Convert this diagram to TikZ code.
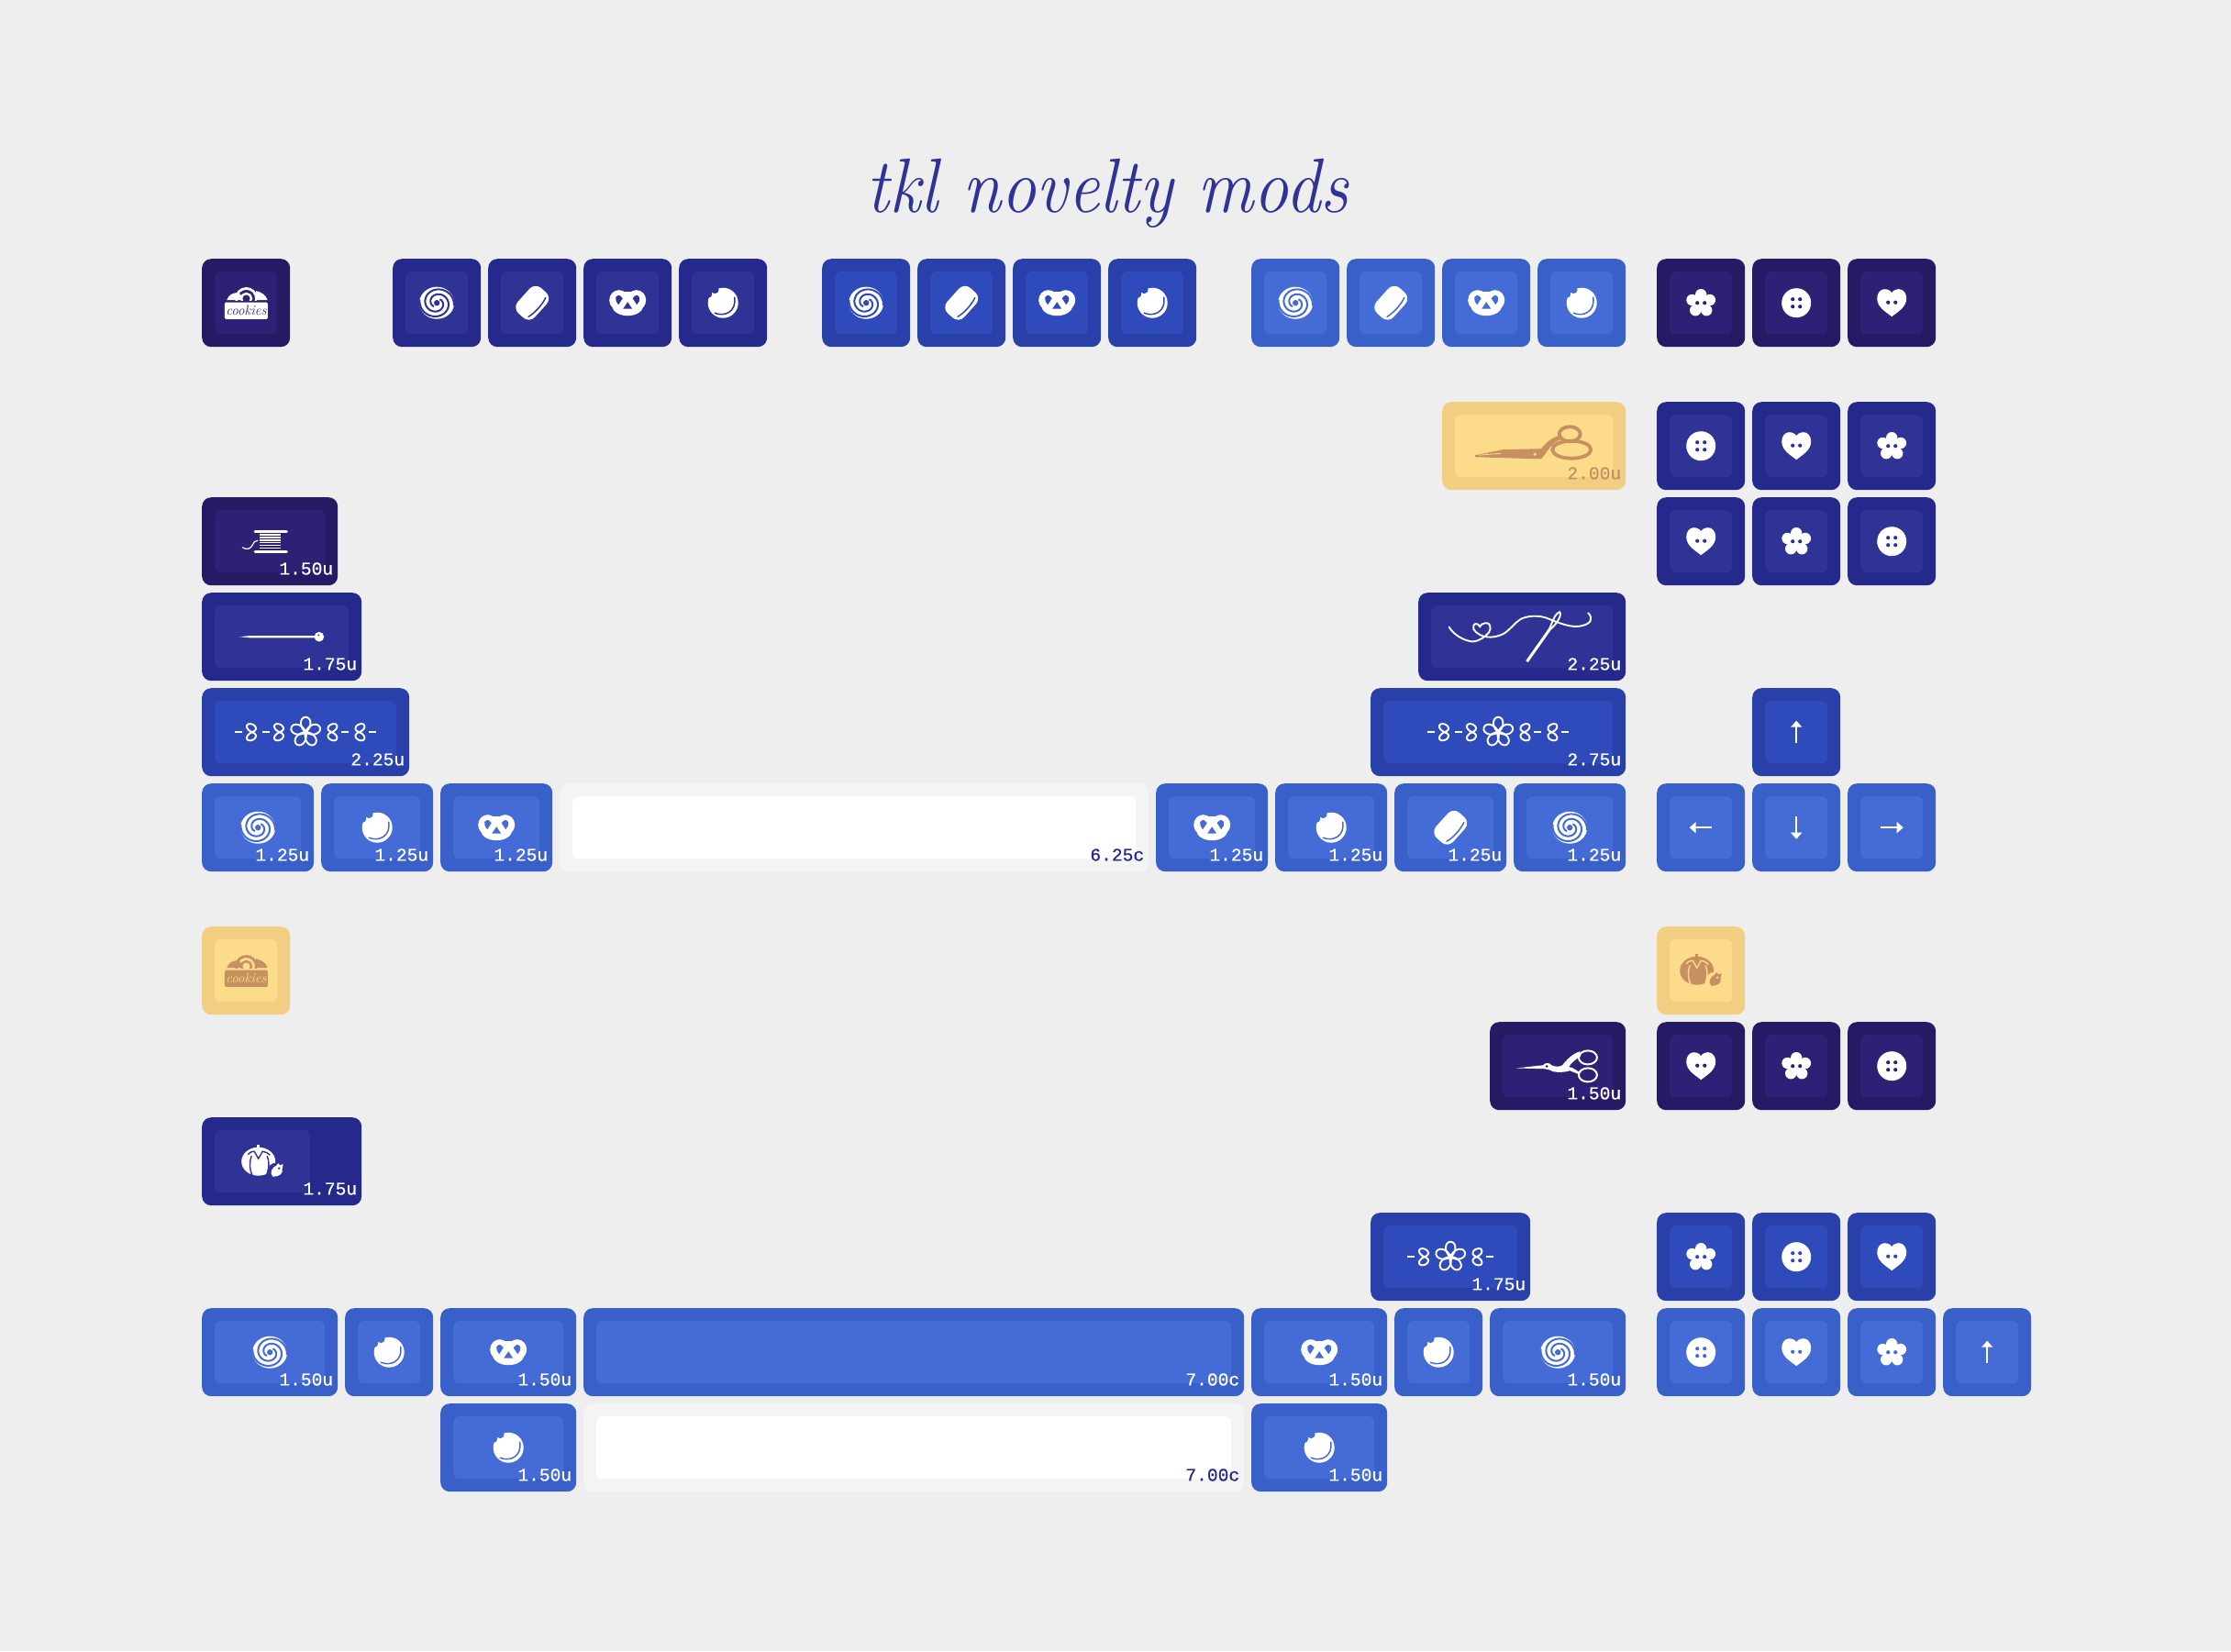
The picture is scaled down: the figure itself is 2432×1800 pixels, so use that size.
\documentclass[tikz,border=0pt]{standalone}
\usepackage{fontspec}
\usepackage{graphicx}
\usepackage{xcolor}
\usepackage{tikz}
\usetikzlibrary{positioning}
\newfontfamily\monofam[FakeBold=0.6]{Liberation Mono}
\newcommand{\sizefont}{\monofam\fontsize{19.6}{20}\selectfont}
\newcommand{\titlefont}{\fontsize{84}{90}\selectfont\itshape\addfontfeatures{FakeBold=2.2}}
\newcommand{\boxfont}{\fontsize{15}{16}\selectfont\itshape\addfontfeatures{FakeBold=0.8}}
\definecolor{pagebg}{HTML}{EEEEEE}
\definecolor{purpleo}{HTML}{251A63}\definecolor{purplei}{HTML}{2E2175}\colorlet{purplek}{white}
\definecolor{navyo}{HTML}{24298B}\definecolor{navyi}{HTML}{2F3396}\colorlet{navyk}{white}
\definecolor{royalo}{HTML}{2940AA}\definecolor{royali}{HTML}{2F4ABB}\colorlet{royalk}{white}
\definecolor{lighto}{HTML}{395FC8}\definecolor{lighti}{HTML}{446BD6}\colorlet{lightk}{white}
\definecolor{yellowo}{HTML}{F2CE83}\definecolor{yellowi}{HTML}{FCDB8B}\definecolor{yellowk}{HTML}{C79060}
\definecolor{paleo}{HTML}{F4F4F4}\colorlet{palei}{white}\colorlet{palek}{navyo}
\tikzset{
  keybody/.style={rounded corners=10pt, inner sep=0pt, minimum height=96pt, anchor=north west},
  keyface/.style={rounded corners=6pt, inner sep=0pt, minimum height=68pt, anchor=north west, xshift=14pt, yshift=-14pt},
  keytext/.style={font=\sizefont, text=keyink, anchor=base east, inner sep=0pt, xshift=-5pt, yshift=12pt},
  blank/.pic={},
  spiralicon/.pic={
    \fill[keyink] (0,0) ellipse[x radius=19, y radius=17.5];
    \draw[keyin, line width=2] plot[domain=0:420, samples=50, smooth, variable=\t] ({(5+\t/30)*cos(\t-50)}, {(5+\t/33)*sin(\t-50)});
    \draw[keyin, line width=2] plot[domain=0:420, samples=50, smooth, variable=\t] ({-(5+\t/30)*cos(\t-50)}, {-(5+\t/33)*sin(\t-50)});
    \fill[keyin] (0,0) circle[radius=3.2];
  },
  soapicon/.pic={
    \fill[keyink, rotate=48, rounded corners=9pt] (-18.5,-12.5) rectangle (18.5,12.5);
    \draw[keyin, rotate=48, line width=1.5, line cap=round] (-14,7) .. controls (-6,9.5) and (6,9.5) .. (14,7);
  },
  pretzelicon/.pic={
    \fill[keyink] (-9.5,-3) ellipse[x radius=10.5, y radius=11];
    \fill[keyink] (9.5,-3) ellipse[x radius=10.5, y radius=11];
    \fill[keyink] (0,3) ellipse[x radius=17, y radius=11];
    \fill[keyink] (-5,-12) rectangle (5,-6);
    \fill[keyin] (-13,-6) .. controls (-10,-10) and (-8,-8) .. (-5.5,-5) -- (-10,2) .. controls (-12,-1) and (-14,-3) .. (-13,-6);
    \fill[keyin] (13,-6) .. controls (10,-10) and (8,-8) .. (5.5,-5) -- (10,2) .. controls (12,-1) and (14,-3) .. (13,-6);
    \fill[keyin] (0,-1) -- (5,6.5) -- (-5,6.5) -- cycle;
  },
  cookieicon/.pic={
    \fill[keyink] (0,0) circle[radius=16.5];
    \fill[keyin] (-16,-9.5) circle[radius=4];
    \fill[keyin] (-9,-14.5) circle[radius=4.4];
    \fill[keyin] (-3.5,-19.5) circle[radius=3.5];
    \fill[keyin] (-14,-16) circle[radius=4];
    \draw[keyin, line width=1.5, line cap=round] (-9,11) .. controls (1,15.5) and (15,10) .. (12.5,-6);
  },
  buttonicon/.pic={
    \fill[keyink] (0,0) circle[radius=16];
    \fill[keyin] (-4,-4) circle[radius=2.1];
    \fill[keyin] (4,-4) circle[radius=2.1];
    \fill[keyin] (-4,4) circle[radius=2.1];
    \fill[keyin] (4,4) circle[radius=2.1];
  },
  hearticon/.pic={
    \fill[keyink] (0,15) .. controls (-6,10) and (-16,5) .. (-16,-5) .. controls (-16,-11) and (-12,-15) .. (-8,-15) .. controls (-4,-15) and (-1,-13) .. (0,-11) .. controls (1,-13) and (4,-15) .. (8,-15) .. controls (12,-15) and (16,-11) .. (16,-5) .. controls (16,5) and (6,10) .. (0,15);
    \fill[keyin] (-4,-0.5) circle[radius=2.1];
    \fill[keyin] (4,-0.5) circle[radius=2.1];
  },
  flowericon/.pic={
    \fill[keyink] (0,0) circle[radius=9];
    \fill[keyink] (0,-9) circle[radius=6.2];
    \fill[keyink] (-9.7,-3.2) circle[radius=6.2];
    \fill[keyink] (9.7,-3.2) circle[radius=6.2];
    \fill[keyink] (-6,8) circle[radius=6.2];
    \fill[keyink] (6,8) circle[radius=6.2];
    \fill[keyin] (-4,0) circle[radius=2.1];
    \fill[keyin] (4,0) circle[radius=2.1];
  },
  arrowicon/.pic={
    \draw[keyink, rotate=#1, line width=2] (0,12) -- (0,-7);
    \fill[keyink, rotate=#1] (0,-12.5) -- (6.2,-5.5) -- (-6.2,-5.5) -- cycle;
  },
  leftloop/.pic={
    \draw[keyink, line width=1.9, line join=round] (0.5,0) .. controls (-4,-2) and (-6,-5) .. (-5,-7.5) .. controls (-4,-10) and (1,-9.5) .. (3.5,-7) .. controls (6,-4) and (5,-1.5) .. (0.5,0) .. controls (5,1.5) and (6,4) .. (3.5,7) .. controls (1,9.5) and (-4,10) .. (-5,7.5) .. controls (-6,5) and (-4,2) .. (0.5,0);
  },
  rightloop/.pic={
    \draw[keyink, line width=1.9, line join=round] (-0.5,0) .. controls (4,-2) and (6,-5) .. (5,-7.5) .. controls (4,-10) and (-1,-9.5) .. (-3.5,-7) .. controls (-6,-4) and (-5,-1.5) .. (-0.5,0) .. controls (-5,1.5) and (-6,4) .. (-3.5,7) .. controls (-1,9.5) and (4,10) .. (5,7.5) .. controls (6,5) and (4,2) .. (-0.5,0);
  },
  midorn/.pic={
    \draw[keyink, line width=1.9] (0,0) .. controls (-7,-5) and (-7,-16) .. (0,-16.5) .. controls (7,-16) and (7,-5) .. (0,0);
    \draw[keyink, line width=1.9, rotate=72] (0,0) .. controls (-7,-5) and (-7,-16) .. (0,-16.5) .. controls (7,-16) and (7,-5) .. (0,0);
    \draw[keyink, line width=1.9, rotate=144] (0,0) .. controls (-7,-5) and (-7,-16) .. (0,-16.5) .. controls (7,-16) and (7,-5) .. (0,0);
    \draw[keyink, line width=1.9, rotate=216] (0,0) .. controls (-7,-5) and (-7,-16) .. (0,-16.5) .. controls (7,-16) and (7,-5) .. (0,0);
    \draw[keyink, line width=1.9, rotate=288] (0,0) .. controls (-7,-5) and (-7,-16) .. (0,-16.5) .. controls (7,-16) and (7,-5) .. (0,0);
    \fill[keyink] (0,0) circle[radius=3];
    \pic at (-29,0) {leftloop};
    \pic at (29,0) {rightloop};
    \draw[keyink, line width=2] (-47,0) -- (-39,0);
    \draw[keyink, line width=2] (47,0) -- (39,0);
  },
  wideorn/.pic={
    \pic at (0,0) {midorn};
    \pic at (-59,0) {leftloop};
    \pic at (59,0) {rightloop};
    \draw[keyink, line width=2] (-77,0) -- (-69,0);
    \draw[keyink, line width=2] (77,0) -- (69,0);
  },
  spoolicon/.pic={
    \draw[keyink, line width=3.4, line cap=round] (-16,-11) -- (18,-11);
    \draw[keyink, line width=3.4, line cap=round] (-16,11) -- (18,11);
    \draw[keyink, line width=1.4] (-11,-7.2) -- (12,-7.2);
    \draw[keyink, line width=1.4] (-11,-4.3) -- (12,-4.3);
    \draw[keyink, line width=1.4] (-11,-1.4) -- (12,-1.4);
    \draw[keyink, line width=1.4] (-11,1.4) -- (12,1.4);
    \draw[keyink, line width=1.4] (-11,4.3) -- (12,4.3);
    \draw[keyink, line width=1.4] (-11,7.2) -- (12,7.2);
    \draw[keyink, line width=1.2] (-30,6.5) .. controls (-25,10) and (-21,8) .. (-19,4) .. controls (-18,1) and (-16,-1) .. (-13,-1);
  },
  needleicon/.pic={
    \fill[keyink] (-46,0) -- (-34,-1.2) -- (38,-1.2) -- (38,1.2) -- (-34,1.2) -- cycle;
    \fill[keyink] (40.7,0) circle[radius=5.3];
    \fill[keyin] (40,-1.8) circle[radius=1];
  },
  threadicon/.pic={
    \draw[keyink, line width=1.9, line cap=round] (-79.7,-10.7) .. controls (-75,-3) and (-65,4) .. (-54,5.3) .. controls (-47,5) and (-40,0) .. (-36,-5) .. controls (-33,-10) and (-35,-16) .. (-40,-15) .. controls (-43,-15) and (-45,-13) .. (-46,-11) .. controls (-48,-15) and (-52,-15) .. (-53,-12) .. controls (-55,-7) and (-47,-2) .. (-42,-0.5) .. controls (-36,1) and (-28,1) .. (-19,-4) .. controls (-12,-9) and (-8,-15) .. (-2,-19) .. controls (5,-23) and (18,-24) .. (28,-20) .. controls (40,-15) and (55,-9) .. (65,-12) .. controls (75,-14) and (78,-20) .. (72,-26);
    \draw[keyink, line width=1.9] (29,-7) .. controls (33,-15) and (35,-25) .. (41,-27) .. controls (44,-24) and (37,-12) .. (29,-7);
    \draw[keyink, line width=3] (30,-8) -- (5.3,27);
  },
  shearicon/.pic={
    \fill[keyink] (-64,10) -- (-34,4) -- (8,3) .. controls (12,-3) and (20,-10) .. (30,-12) -- (32,-8) .. controls (24,-6) and (18,0) .. (15,5) -- (8,14) -- (0,14) -- (-64,12) -- cycle;
    \draw[keyin, line width=0.8] (-60,10) -- (-36,8);
    \draw[keyink, line width=3.8] (39,-13) ellipse[x radius=11.5, y radius=8];
    \draw[keyink, line width=3.8] (41,4) ellipse[x radius=21, y radius=9.5];
    \fill[keyin] (1,9) circle[radius=1.8];
  },
  storkicon/.pic={
    \fill[keyink] (-45,2.3) -- (-16,-1) .. controls (-14,-4) and (-9,-4) .. (-7,-1) .. controls (-3,1) and (2,1) .. (5,-1) .. controls (9,-6) and (15,-13) .. (24,-16) -- (25,-11) .. controls (19,-7) and (14,-3) .. (12,1) -- (16,2) -- (24,7) -- (23,9) -- (13,5) .. controls (8,7) and (0,7) .. (-5,6) .. controls (-9,4) and (-12,3) .. (-15,3) -- cycle;
    \fill[keyin] (-12,0.3) circle[radius=1.5];
    \draw[keyink, line width=2] (32.7,-9.3) ellipse[x radius=10, y radius=7.5];
    \draw[keyink, line width=2] (32.7,9.7) ellipse[x radius=10, y radius=7.5];
  },
  pumpkinicon/.pic={
    \fill[keyink] (-4.5,0) ellipse[x radius=18.5, y radius=15.5];
    \fill[keyink] (-6.5,-18) rectangle (-3.5,-12);
    \draw[keyin, line width=1.4] (-16,-7.5) .. controls (-13,-11) and (-10,-11) .. (-9,-11) -- (-4.5,-3) -- (-0,-11) .. controls (3,-11) and (6,-9) .. (8,-7);
    \draw[keyin, line width=1.4] (-12,-6) .. controls (-15,1) and (-14,9) .. (-11,16);
    \draw[keyin, line width=1.4] (5,-6) .. controls (8,1) and (7,9) .. (4,16);
    \fill[keyin] (14.7,11) circle[radius=9.5];
    \fill[keyink] (11,16.5) .. controls (7,12) and (11,6) .. (15,4.5) -- (17,2) -- (19,4) -- (22.5,3) -- (21.5,8) .. controls (23,13) and (18,17) .. (11,16.5);
    \fill[keyin] (18,7.5) circle[radius=1.3];
  },
  boxicon/.pic={
    \fill[keyink, rounded corners=1.5pt] (-23.3,-0.7) rectangle (23.7,17.7);
    \node[text=keyin, font=\boxfont, inner sep=0pt] (word) at (0.2,8.2) {cookies};
    \fill[keyink] (-21,-3) .. controls (-19,-9) and (-14,-11) .. (-10,-11) .. controls (-6,-11) and (-4,-7) .. (-4,-3) -- cycle;
    \fill[keyink] (11,-3) -- (11,-13) .. controls (17,-12) and (22,-8) .. (23.5,-3) -- cycle;
    \begin{scope}
      \clip (-12,-18) rectangle (12,-3);
      \draw[keyink, line width=2.8] (0.3,-4.7) circle[radius=11];
      \draw[keyink, line width=2.4] (0.3,-4.7) circle[radius=5.5];
    \end{scope}
  }
}
\newcommand{\keycap}[7][]{%
  \colorlet{keyin}{#6i}\colorlet{keyink}{#6k}%
  \node[keybody, fill=#6o, minimum width=#5pt] (#2) at (#3,#4) {};
  \node[keyface, fill=#6i, minimum width={(#5-28)*1pt}, #1] (#2in) at (#2.north west) {};
  \pic (#2ic) at (#2in.center) {#7};
}
\newcommand{\sizedcap}[8][]{%
  \keycap[#1]{#2}{#3}{#4}{#5}{#6}{#7}
  \node[keytext] (#2lab) at (#2.south east) {#8};
}

\begin{document}
\begin{tikzpicture}[x=1pt, y=-1pt]
\path[fill=pagebg, use as bounding box] (0,0) rectangle (2432,1800);
\node[font=\titlefont, text=navyi, anchor=base, inner sep=0pt] (heading) at (1207,231) {\scalebox{0.91}[1]{tkl novelty mods}};
% function row
\keycap{esc}{220}{282}{96}{purple}{boxicon}
\keycap{fa}{428}{282}{96}{navy}{spiralicon}
\keycap{fb}{532}{282}{96}{navy}{soapicon}
\keycap{fc}{636}{282}{96}{navy}{pretzelicon}
\keycap{fd}{740}{282}{96}{navy}{cookieicon}
\keycap{fe}{896}{282}{96}{royal}{spiralicon}
\keycap{ff}{1000}{282}{96}{royal}{soapicon}
\keycap{fg}{1104}{282}{96}{royal}{pretzelicon}
\keycap{fh}{1208}{282}{96}{royal}{cookieicon}
\keycap{fi}{1364}{282}{96}{light}{spiralicon}
\keycap{fj}{1468}{282}{96}{light}{soapicon}
\keycap{fk}{1572}{282}{96}{light}{pretzelicon}
\keycap{fl}{1676}{282}{96}{light}{cookieicon}
\keycap{pa}{1806}{282}{96}{purple}{flowericon}
\keycap{pb}{1910}{282}{96}{purple}{buttonicon}
\keycap{pc}{2014}{282}{96}{purple}{hearticon}
% upper block
\sizedcap{bksp}{1572}{438}{200}{yellow}{shearicon}{2.00u}
\keycap{na}{1806}{438}{96}{navy}{buttonicon}
\keycap{nb}{1910}{438}{96}{navy}{hearticon}
\keycap{nc}{2014}{438}{96}{navy}{flowericon}
\sizedcap{tab}{220}{542}{148}{purple}{spoolicon}{1.50u}
\keycap{nd}{1806}{542}{96}{navy}{hearticon}
\keycap{ne}{1910}{542}{96}{navy}{flowericon}
\keycap{nf}{2014}{542}{96}{navy}{buttonicon}
\sizedcap{caps}{220}{646}{174}{navy}{needleicon}{1.75u}
\sizedcap{ret}{1546}{646}{226}{navy}{threadicon}{2.25u}
\sizedcap{lsft}{220}{750}{226}{royal}{wideorn}{2.25u}
\sizedcap{rsft}{1494}{750}{278}{royal}{wideorn}{2.75u}
\keycap{up}{1910}{750}{96}{royal}{arrowicon=0}
\sizedcap{ca}{220}{854}{122}{light}{spiralicon}{1.25u}
\sizedcap{cb}{350}{854}{122}{light}{cookieicon}{1.25u}
\sizedcap{cc}{480}{854}{122}{light}{pretzelicon}{1.25u}
\sizedcap{spa}{610}{854}{642}{pale}{blank}{6.25c}
\sizedcap{cd}{1260}{854}{122}{light}{pretzelicon}{1.25u}
\sizedcap{ce}{1390}{854}{122}{light}{cookieicon}{1.25u}
\sizedcap{cf}{1520}{854}{122}{light}{soapicon}{1.25u}
\sizedcap{cg}{1650}{854}{122}{light}{spiralicon}{1.25u}
\keycap{left}{1806}{854}{96}{light}{arrowicon=90}
\keycap{down}{1910}{854}{96}{light}{arrowicon=180}
\keycap{right}{2014}{854}{96}{light}{arrowicon=270}
% lower block
\keycap{yesc}{220}{1010}{96}{yellow}{boxicon}
\keycap{ypin}{1806}{1010}{96}{yellow}{pumpkinicon}
\sizedcap{stork}{1624}{1114}{148}{purple}{storkicon}{1.50u}
\keycap{qa}{1806}{1114}{96}{purple}{hearticon}
\keycap{qb}{1910}{1114}{96}{purple}{flowericon}
\keycap{qc}{2014}{1114}{96}{purple}{buttonicon}
\sizedcap[minimum width=104pt]{pin}{220}{1218}{174}{navy}{pumpkinicon}{1.75u}
\sizedcap{orn}{1494}{1322}{174}{royal}{midorn}{1.75u}
\keycap{ra}{1806}{1322}{96}{royal}{flowericon}
\keycap{rb}{1910}{1322}{96}{royal}{buttonicon}
\keycap{rc}{2014}{1322}{96}{royal}{hearticon}
\sizedcap{da}{220}{1426}{148}{light}{spiralicon}{1.50u}
\keycap{db}{376}{1426}{96}{light}{cookieicon}
\sizedcap{dc}{480}{1426}{148}{light}{pretzelicon}{1.50u}
\sizedcap{spb}{636}{1426}{720}{light}{blank}{7.00c}
\sizedcap{dd}{1364}{1426}{148}{light}{pretzelicon}{1.50u}
\keycap{de}{1520}{1426}{96}{light}{cookieicon}
\sizedcap{df}{1624}{1426}{148}{light}{spiralicon}{1.50u}
\keycap{sa}{1806}{1426}{96}{light}{buttonicon}
\keycap{sb}{1910}{1426}{96}{light}{hearticon}
\keycap{sc}{2014}{1426}{96}{light}{flowericon}
\keycap{sd}{2118}{1426}{96}{light}{arrowicon=0}
\sizedcap{ea}{480}{1530}{148}{light}{cookieicon}{1.50u}
\sizedcap{spc}{636}{1530}{720}{pale}{blank}{7.00c}
\sizedcap{eb}{1364}{1530}{148}{light}{cookieicon}{1.50u}
\end{tikzpicture}
\end{document}
